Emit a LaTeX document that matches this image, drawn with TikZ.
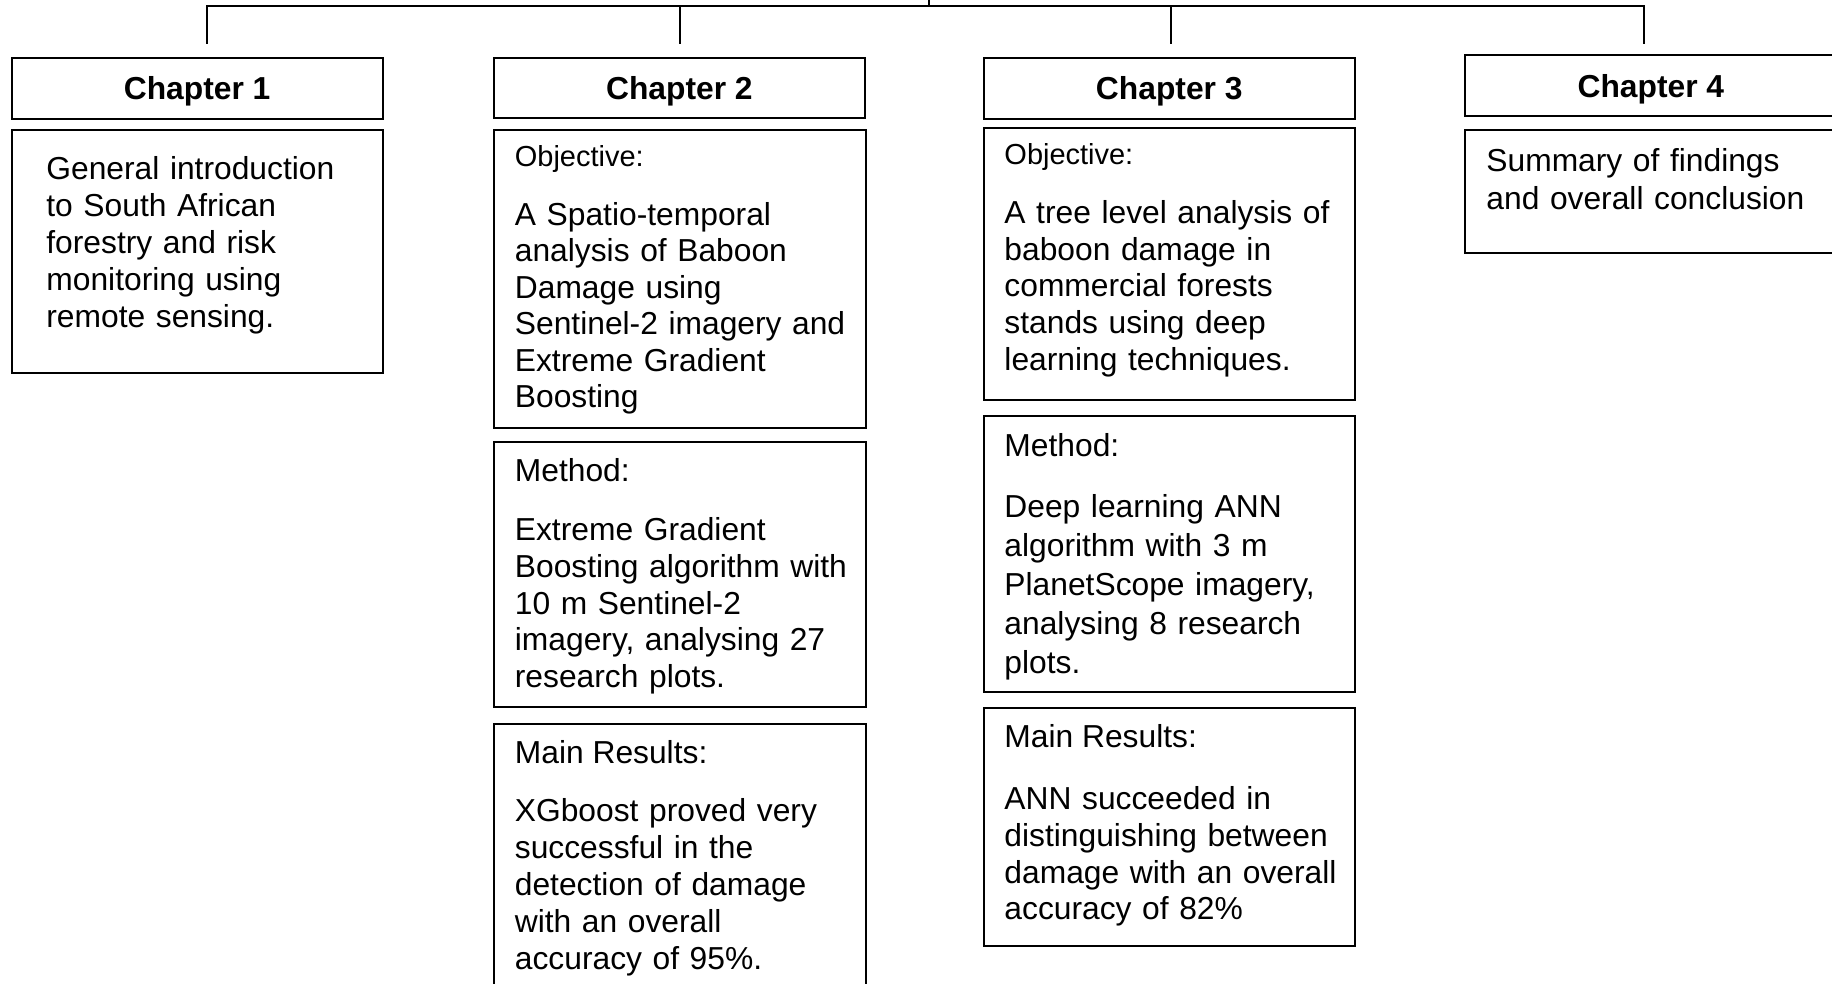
\documentclass[tikz,border=0pt]{standalone}
\usepackage{fontspec}
\setmainfont{Liberation Sans}
\begin{document}
\begin{tikzpicture}[x=1pt,y=-1pt,
  conn/.style={line width=1.7pt, line cap=rect},
  box/.style={draw, line width=1.7pt, rectangle, anchor=north west, inner sep=0pt, outer sep=0pt},
  head/.style={box, font=\fontsize{27.2}{31.5}\selectfont\bfseries, text height=19.6pt, text depth=0pt},
  lbl/.style={anchor=base west, inner sep=0pt, font=\fontsize{27.2}{31.5}\selectfont},
  obj/.style={anchor=base west, inner sep=0pt, font=\fontsize{24.8}{30}\selectfont},
  txt/.style={anchor=base west, inner sep=0pt, text width=300pt, align=left, font=\fontsize{27.2}{31.5}\selectfont},
]
\useasboundingbox (0,0) rectangle (1568,842);
\clip (0,0) rectangle (1568,842);

% connectors
\coordinate (bus) at (795,5);
\coordinate (top) at (795,-4);
\coordinate (j1) at (177,37);
\coordinate (j2) at (581.6,37);
\coordinate (j3) at (1002,37);
\coordinate (j4) at (1407,37);
\draw[conn] (j1) |- (bus) -| (j4);
\draw[conn] (j2) -- (j2 |- bus);
\draw[conn] (j3) -- (j3 |- bus);
\draw[conn] (bus) -- (top);

% Chapter 1
\node[head, minimum width=317.5pt, minimum height=51.5pt] (h1) at (10,50) {Chapter 1};
\node[box, minimum width=317.5pt, minimum height=207.7pt] (b1) at (10,111.5) {};
\node[txt] (t1) at (39.5,154) {General introduction\\to South African\\forestry and risk\\monitoring using\\remote sensing.};

% Chapter 2
\node[head, minimum width=318pt, minimum height=51.5pt] (h2) at (422.5,49.5) {Chapter 2};
\node[box, minimum width=318.5pt, minimum height=255.6pt] (o2) at (422.5,111) {};
\node[obj] (o2l) at (440.5,142.7) {Objective:};
\node[txt, font=\fontsize{27.2}{31.2}\selectfont] (o2t) at (440.5,193) {A Spatio-temporal\\analysis of Baboon\\Damage using\\Sentinel-2 imagery and\\Extreme Gradient\\Boosting};
\node[box, minimum width=318.5pt, minimum height=227.5pt] (m2) at (422.5,378) {};
\node[lbl] (m2l) at (440.5,412.5) {Method:};
\node[txt] (m2t) at (440.5,462.6) {Extreme Gradient\\Boosting algorithm with\\10 m Sentinel-2\\imagery, analysing 27\\research plots.};
\node[box, minimum width=318.5pt, minimum height=260pt] (r2) at (422.5,619.5) {};
\node[lbl] (r2l) at (440.5,653.5) {Main Results:};
\node[txt, font=\fontsize{27.2}{31.7}\selectfont] (r2t) at (440.5,703) {XGboost proved very\\successful in the\\detection of damage\\with an overall\\accuracy of 95\%.};

% Chapter 3
\node[head, minimum width=317.5pt, minimum height=51.5pt] (h3) at (842,50) {Chapter 3};
\node[box, minimum width=317.5pt, minimum height=233.3pt] (o3) at (842,109.3) {};
\node[obj] (o3l) at (859.5,141.2) {Objective:};
\node[txt, font=\fontsize{27.2}{31.4}\selectfont] (o3t) at (859.5,191.3) {A tree level analysis of\\baboon damage in\\commercial forests\\stands using deep\\learning techniques.};
\node[box, minimum width=317.5pt, minimum height=236.7pt] (m3) at (842,355.8) {};
\node[lbl] (m3l) at (859.5,390.5) {Method:};
\node[txt, font=\fontsize{27.2}{33.5}\selectfont] (m3t) at (859.5,442.5) {Deep learning ANN\\algorithm with 3 m\\PlanetScope imagery,\\analysing 8 research\\plots.};
\node[box, minimum width=317.5pt, minimum height=203.8pt] (r3) at (842,605.8) {};
\node[lbl] (r3l) at (859.5,640.2) {Main Results:};
\node[txt, font=\fontsize{27.2}{31.6}\selectfont] (r3t) at (859.5,692.6) {ANN succeeded in\\distinguishing between\\damage with an overall\\accuracy of 82\%};

% Chapter 4 (box runs past the right edge)
\node[head, minimum width=317.5pt, minimum height=51.9pt] (h4) at (1254.2,47.4) {Chapter 4};
\node[box, minimum width=317.5pt, minimum height=105pt] (b4) at (1254.2,111.5) {};
\node[txt, font=\fontsize{27.2}{32.7}\selectfont] (t4) at (1272,147) {Summary of findings\\and overall conclusion};
\end{tikzpicture}
\end{document}
